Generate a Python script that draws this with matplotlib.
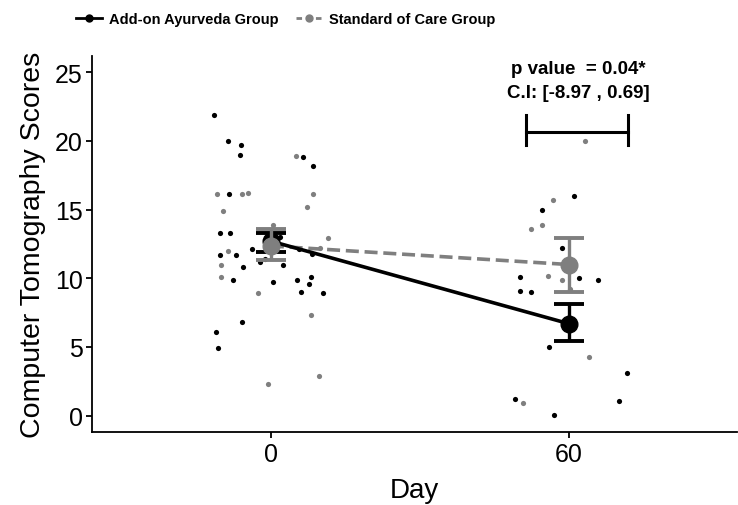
import numpy as np
import matplotlib.pyplot as plt
from matplotlib.lines import Line2D

plt.rcParams['font.family'] = ['Liberation Sans', 'DejaVu Sans']

# Group means and error bar limits at day 0 and day 60
days = [0, 60]
ayur_mean = [12.7, 6.7]
ayur_low = [11.9, 5.4]
ayur_high = [13.3, 8.1]
soc_mean = [12.35, 11.0]
soc_low = [11.3, 9.0]
soc_high = [13.55, 12.9]

# Individual (jittered) patient scores
ayur_x = [-11.4, -8.6, -6.1, -6.2, 6.5, 8.5, -8.5, -10.2, -8.3, -10.3, -7.1, -3.9, -5.7,
          -7.7, 0.5, -2.2, -1.2, 2.5, 1.9, 5.2, 8.0, 7.7, 6.1, 10.6, -5.8, -11.1, -10.7,
          5.6, 8.2,
          61.0, 54.7, 58.6, 50.3, 62.1, 66.0, 50.2, 52.4, 56.0, 71.7, 49.2, 70.2, 57.0]
ayur_y = [21.9, 20.0, 19.7, 19.0, 18.8, 18.2, 16.1, 13.3, 13.3, 11.7, 11.7, 12.1, 10.8,
          9.9, 9.7, 11.2, 11.4, 11.0, 13.0, 9.9, 10.1, 9.6, 9.0, 8.9, 6.8, 6.1, 4.9,
          12.1, 11.8,
          16.0, 15.0, 12.2, 10.1, 10.0, 9.9, 9.1, 9.0, 5.0, 3.1, 1.2, 1.1, 0.05]
soc_x = [5.1, -10.8, -5.9, -4.7, 8.4, -9.7, 7.3, 0.4, 11.5, 9.9, -8.7, -10.0, -10.0,
         -2.5, 8.1, 9.6, -0.5,
         63.4, 56.8, 54.7, 52.5, 55.8, 58.7, 60.3, 64.2, 50.8]
soc_y = [18.9, 16.1, 16.1, 16.2, 16.1, 14.9, 15.2, 13.9, 12.9, 12.2, 12.0, 11.0, 10.1,
         8.9, 7.3, 2.9, 2.3,
         20.0, 15.7, 13.9, 13.6, 10.2, 9.9, 9.2, 4.3, 0.9]

# Significance bracket
bracket_x = [51.5, 71.9]
bracket_y = 20.65
bracket_tip = [19.7, 21.9]
p_text = 'p value  = 0.04*'
ci_text = 'C.I: [-8.97 , 0.69]'

grey = '#7f7f7f'

fig = plt.figure(figsize=(7.38, 5.06), dpi=100)
ax = fig.add_axes([0.125, 0.144, 0.874, 0.744])

ax.scatter(ayur_x, ayur_y, s=14, color='black', linewidths=0, zorder=1)
ax.scatter(soc_x, soc_y, s=14, color=grey, linewidths=0, zorder=1)

ax.plot(days, ayur_mean, color='black', lw=2.6, zorder=3)
soc_line, = ax.plot(days, soc_mean, color=grey, lw=2.6, zorder=2)
soc_line.set_dashes([3.6, 1.6])

ayur_err = [np.subtract(ayur_mean, ayur_low), np.subtract(ayur_high, ayur_mean)]
soc_err = [np.subtract(soc_mean, soc_low), np.subtract(soc_high, soc_mean)]
ax.errorbar(days, ayur_mean, yerr=ayur_err, fmt='o', color='black', ms=12,
            elinewidth=2.4, capsize=11, capthick=2.8, zorder=4)
ax.errorbar(days, soc_mean, yerr=soc_err, fmt='o', color=grey, ms=12,
            elinewidth=2.4, capsize=11, capthick=2.8, zorder=5)

# bracket + text
ax.plot(bracket_x, [bracket_y, bracket_y], color='black', lw=2.2)
for bx in bracket_x:
    ax.plot([bx, bx], bracket_tip, color='black', lw=2.2)
ax.text(62.0, 25.25, p_text, ha='center', va='center', fontsize=13.5, fontweight='bold')
ax.text(62.0, 23.5, ci_text, ha='center', va='center', fontsize=13.5, fontweight='bold')

ax.set_xlim(-36, 94)
ax.set_ylim(-1.2, 26.2)
ax.set_xticks(days)
ax.set_yticks([0, 5, 10, 15, 20, 25])
ax.tick_params(labelsize=18, length=4, width=1.3, color='black', pad=3)
ax.spines['top'].set_visible(False)
ax.spines['right'].set_visible(False)
ax.spines['left'].set_linewidth(1.3)
ax.spines['bottom'].set_linewidth(1.3)
ax.set_xlabel('Day', fontsize=20, labelpad=8)
ax.set_ylabel('Computer Tomography Scores', fontsize=20.5, labelpad=6)

handles = [
    Line2D([], [], color='black', lw=2, marker='o', ms=5),
    Line2D([], [], color=grey, lw=2, ls=(0, (2, 1.5)), marker='o', ms=5),
]
fig.legend(handles, ['Add-on Ayurveda Group', 'Standard of Care Group'],
           loc='center left', bbox_to_anchor=(0.085, 0.96), ncol=2, frameon=False,
           prop={'size': 10.5, 'weight': 'bold'}, handlelength=1.8,
           columnspacing=1.2, handletextpad=0.45)

fig.savefig('out.png', dpi=100)
